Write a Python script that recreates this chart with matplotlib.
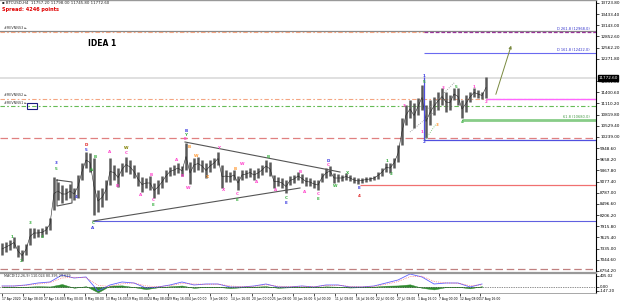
import matplotlib
matplotlib.use('Agg')
import matplotlib.pyplot as plt
import numpy as np
from matplotlib.patches import Rectangle

# ---------------- data ----------------
highs = [7482, 7508, 7560, 7638, 7430, 7300, 7456, 7872, 7872, 7846, 7872, 7924, 8132, 9198, 9068,
         8990, 8912, 9016, 8912, 9250, 9562, 9848, 9822, 9692, 8860, 8912, 9120, 9692, 9510, 9432,
         9562, 9718, 9640, 9510, 9328, 9198, 9172, 9224, 9042, 9120, 9224, 9380, 9458, 9510, 9562,
         9484, 10082, 9588, 9692, 9718, 9640, 9562, 9640, 9692, 9848, 9510, 9380, 9328, 9380, 9224,
         9380, 9380, 9432, 9380, 9432, 9510, 9640, 9588, 9250, 9198, 9172, 9120, 9224, 9250, 9328,
         9276, 9198, 9172, 9120, 9120, 9302, 9432, 9484, 9302, 9276, 9250, 9302, 9250, 9198, 9172,
         9172, 9198, 9198, 9224, 9328, 9432, 9562, 9562, 9692, 10030, 10732, 11070, 11200, 11122, 11252,
         11590, 11070, 11200, 11278, 11408, 11512, 11408, 11330, 11512, 11512, 11200, 11330, 11408, 11512, 11460,
         11408, 11798]
lows = [7170, 7248, 7300, 7352, 7118, 7014, 7170, 7430, 7612, 7638, 7638, 7716, 7820, 8340, 8600,
        8522, 8600, 8652, 8600, 8652, 9120, 9432, 9328, 8210, 8288, 8418, 8600, 8990, 9120, 8938,
        9224, 9328, 9276, 9172, 8964, 8808, 8912, 8860, 8652, 8756, 8912, 9068, 9224, 9250, 9302,
        9224, 9380, 9016, 9328, 9380, 9328, 9172, 9328, 9432, 9510, 8912, 9068, 9068, 9120, 8860,
        9120, 9172, 9198, 9120, 9172, 9250, 9328, 9224, 8912, 8964, 8912, 8782, 8990, 9042, 9120,
        9042, 8964, 8964, 8912, 8860, 9068, 9172, 9224, 9042, 9068, 9094, 9120, 9094, 9042, 9016,
        9042, 9068, 9094, 9120, 9146, 9224, 9328, 9302, 9432, 9588, 10030, 10550, 10732, 10472, 10810,
        10940, 10212, 10550, 10810, 10940, 11070, 10888, 10940, 11200, 11070, 10732, 10888, 11148, 11278, 11252,
        11226, 11252]

macd = [37, 37, 74, 147, 184, 442, 331, 368, -147, 74, 184, 147, -37, 0, 74, 184, 74, 110, 110, 0,
        0, 37, 110, 0, 0, 37, 0, 74, 74, 0, 0, 37, 147, 258, 478, 368, 110, 147, 147, 0, 110]
signal = [30, 35, 60, 110, 160, 330, 360, 340, 60, 20, 120, 150, 40, 10, 50, 130, 110, 100, 105, 40,
          10, 25, 80, 30, 10, 30, 10, 50, 65, 20, 5, 25, 100, 200, 380, 400, 200, 150, 140, 50, 80]
osma = [5, 2, 10, 30, 20, 110, -30, 30, -200, 50, 60, -5, -80, -10, 25, 55, -35, 10, 5, -40,
        -10, 12, 30, -30, -10, 7, -10, 24, 9, -20, -5, 12, 47, 58, 98, -32, -90, -3, 7, -50, 30]

price_ticks = [6754.2, 7044.6, 7335.0, 7625.4, 7915.8, 8206.2, 8496.6, 8787.0, 9077.4, 9367.8,
               9658.2, 9948.6, 10239.0, 10529.4, 10819.8, 11110.2, 11400.6, 11691.0, 12271.8,
               12562.2, 12852.6, 13143.0, 13433.4, 13723.8]
ind_ticks = [405.02, 0.0, -147.2]
date_labels = ['17 Apr 2020', '22 Apr 08:00', '27 Apr 16:00', '3 May 00:00', '8 May 08:00',
               '13 May 16:00', '19 May 00:00', '24 May 08:00', '29 May 16:00', '4 Jun 00:00',
               '9 Jun 08:00', '14 Jun 16:00', '20 Jun 00:00', '25 Jun 08:00', '30 Jun 16:00',
               '6 Jul 00:00', '11 Jul 08:00', '16 Jul 16:00', '22 Jul 00:00', '27 Jul 08:00',
               '1 Aug 16:00', '7 Aug 00:00', '12 Aug 08:00', '17 Aug 16:00']

bid_price = 11772.6
lvl_gray_top = 12994
lvl_rev3 = 12968
lvl_fib2618 = 12968
lvl_fib1618 = 12422
lvl_rev2 = 11226
lvl_magenta = 11226
lvl_rev1 = 11044
lvl_fib618 = 10680
lvl_red_dash = 10212
lvl_blue_2 = 10160
lvl_red_solid = 8990
lvl_blue_3 = 8054
lvl_brown_dash = 6806

wave_labels = [
    (2.5, 7638, '1', 'g'), (4.75, 7014, '2', 'g'), (7, 8002, '3', 'g'), (10, 7638, '4', 'g'),
    (13.5, 9562, '3', 'b'), (13.5, 9406, '5', 'g'), (18.5, 8678, '4', 'b'),
    (21, 10030, 'D', 'r'), (21, 9900, '5', 'b'), (22.5, 9380, 'A', 'g'), (23.25, 9718, 'B', 'g'),
    (22.75, 8002, 'C', 'g'), (22.75, 7872, 'A', 'b'),
    (27, 9848, 'A', 'm'), (28.75, 8964, 'B', 'm'), (31, 9952, 'W', 'o'), (31, 9822, 'C', 'm'),
    (34.75, 8730, 'A', 'm'), (37.25, 9250, 'B', 'm'), (37.75, 8600, 'C', 'm'), (37.75, 8470, 'E', 'g'),
    (43.75, 9640, 'A', 'm'), (45, 9224, 'B', 'm'), (46, 10394, 'B', 'b'), (46, 10290, 'Y', 'g'),
    (45.75, 10186, 'E', 'm'), (46.75, 9978, 'B', 'y'), (46.5, 8912, 'W', 'm'), (48.5, 9744, 'W', 'y'),
    (51.25, 9198, 'X', 'y'), (54.25, 9952, 'Y', 'm'), (55.25, 8860, 'X', 'm'), (58.25, 9406, 'B', 'y'),
    (58.75, 8756, 'C', 'm'), (58.75, 8600, 'E', 'g'), (60, 9536, 'W', 'm'), (63.75, 9068, 'A', 'm'),
    (66.5, 9718, 'B', 'g'), (68.5, 8860, 'A', 'm'), (71, 8652, 'C', 'g'), (71, 8522, 'E', 'b'),
    (74.5, 9328, 'B', 'm'), (75.75, 8808, 'A', 'm'), (79, 8756, 'C', 'm'), (79, 8626, 'E', 'g'),
    (81.5, 9614, 'D', 'b'), (81.5, 9510, 'C', 'm'), (83.25, 8964, 'W', 'g'), (86.25, 9302, 'X', 'g'),
    (89.25, 8912, 'E', 'b'), (89.25, 8704, '4', 'r'), (96.25, 9614, '1', 'g'), (97.25, 9276, '2', 'g'),
    (100.5, 11044, '3', 'm'), (105.5, 11824, '1', 'b'), (105.5, 11668, '5', 'g'), (105.5, 10108, '2', 'b'),
    (105, 10368, '1', 'm'), (108.75, 10550, '3', 'y'), (110.25, 11512, '3', 'm'), (113.5, 11538, '5', 'g'),
    (115, 10628, '4', 'g'), (118, 11538, '1', 'm'), (121, 11148, '2', 'm'),
]
label_colors = {'g': '#3cb043', 'b': '#3a3ae0', 'r': '#e02020', 'm': '#ff44cc',
                'o': '#808000', 'y': '#ff9933'}

tri_upper = ([45.75, 84.5], [10108, 9328])
tri_lower = ([22.75, 74.5], [8054, 8912])
box_x = [13.75, 17.5, 17.5, 13.75, 13.75]
box_y = [9120, 9068, 8522, 8444, 9120]
chan1 = ([106.25, 113.25], [10940, 11668])
chan2 = ([102, 109.5], [10368, 11018])
chan3 = ([105.75, 108.5], [10160, 10576])
arrow_from = (123.25, 11278)
arrow_to = (127.5, 12682)
vline_day = 105.5
vline_range = (10160, 11798)

# ---------------- figure ----------------
W, H = 625, 301
fig = plt.figure(figsize=(6.25, 3.01), dpi=100)
fig.patch.set_facecolor('white')

RIGHT = 596
ax = fig.add_axes([0, 1 - 272 / H, RIGHT / W, 272 / H])
ax.set_xlim(-0.5, 148.5)
ax.set_ylim(6728, 13800)
for s in ['left', 'bottom']:
    ax.spines[s].set_visible(False)
ax.spines['top'].set_color('#999999')
ax.spines['top'].set_linewidth(1.0)
ax.spines['right'].set_color('black')
ax.spines['right'].set_linewidth(0.8)
ax.set_xticks([])
ax.yaxis.tick_right()
ax.set_yticks(price_ticks)
ax.set_yticklabels([f'{v:.2f}' for v in price_ticks], fontsize=3.0)
ax.tick_params(axis='y', length=2, width=0.5, pad=1, colors='black')

days = np.arange(len(highs))
xmax = 148.5

# horizontal levels
ax.axhline(lvl_gray_top, color='#888888', lw=0.9)
ax.hlines(lvl_rev3, -0.5, vline_day, color='#f4a582', lw=0.8, linestyles=[(0, (4, 2, 1.5, 2))])
ax.hlines(lvl_fib2618, vline_day, xmax, color='#993399', lw=0.9, linestyles=[(0, (3, 1.5))])
ax.hlines(lvl_fib1618, vline_day, xmax, color='#6a6af0', lw=0.8)
ax.axhline(bid_price, color='#dddddd', lw=1.3)
ax.axhline(lvl_rev2, color='#f4a582', lw=0.8, linestyle=(0, (4, 2, 1.5, 2)))
ax.hlines(lvl_magenta, 121, xmax, color='#ff66ff', lw=1.0)
ax.axhline(lvl_rev1, color='#66bb55', lw=0.8, linestyle=(0, (4, 2, 1.5, 2)))
ax.hlines(lvl_fib618, 115, xmax, color='#88cc88', lw=2.0)
ax.axhline(lvl_red_dash, color='#e08080', lw=0.9, linestyle=(0, (6, 3)))
ax.hlines(lvl_blue_2, vline_day, xmax, color='#5050e0', lw=0.9)
ax.hlines(lvl_red_solid, 89.5, xmax, color='#f07070', lw=0.9)
ax.hlines(lvl_blue_3, 22.75, xmax, color='#6060e0', lw=0.8)
ax.axhline(lvl_brown_dash, color='#c08080', lw=0.9, linestyle=(0, (6, 3)))

# level texts
ax.text(0.5, lvl_rev3 + 40, '#REVNNS3 \u25ba', fontsize=2.4, color='#333333', va='bottom')
ax.text(0.5, lvl_rev2 + 40, '#REVNNS2 \u25ba', fontsize=2.4, color='#333333', va='bottom')
ax.text(0.5, lvl_rev1 + 20, '#REVNNS1 \u25ba', fontsize=2.4, color='#333333', va='bottom')
ax.add_patch(Rectangle((6.25, 10966), 2.5, 156, fill=False, edgecolor='#1a1a80', lw=0.8))
ax.text(147, lvl_fib2618 + 20, f'D 261.8 ({lvl_fib2618:.1f})', fontsize=2.6, color='#3333cc',
        ha='right', va='bottom')
ax.text(147, lvl_fib1618 + 20, f'D 161.8 ({lvl_fib1618:.1f})', fontsize=2.6, color='#3333cc',
        ha='right', va='bottom')
ax.text(147, lvl_fib618 + 30, f'61.8 ({lvl_fib618:.1f})', fontsize=2.6, color='#449944',
        ha='right', va='bottom')

# price bars
ax.vlines(days, lows, highs, color='#5a5a5a', lw=1.8)
ax.plot(days, [(h + l) / 2 for h, l in zip(highs, lows)], color='#222222', lw=0.4)

# trend lines
ax.plot(*tri_upper, color='#555555', lw=0.8)
ax.plot(*tri_lower, color='#555555', lw=0.8)
ax.plot(box_x, box_y, color='#555555', lw=0.8)
ax.plot(*chan1, color='#888888', lw=0.6, linestyle=':')
ax.plot(*chan2, color='#888888', lw=0.6, linestyle=':')
ax.plot(*chan3, color='#66bb66', lw=0.6, linestyle=':')
ax.vlines(vline_day, *vline_range, color='#5050e0', lw=0.9)
ax.annotate('', xy=arrow_to, xytext=arrow_from,
            arrowprops=dict(arrowstyle='-|>', color='#7a8a40', lw=0.7, mutation_scale=4))

# wave labels
for d, p, t, c in wave_labels:
    ax.text(d, p, t, fontsize=3.0, color=label_colors[c], ha='center', va='center', fontweight='bold')

ax.text(25, 12682, 'IDEA 1', fontsize=5.5, fontweight='bold', ha='center', va='center', color='black')

# bid label on axis
ax.text(1.004, bid_price, f'{bid_price:.2f}', transform=ax.get_yaxis_transform(), fontsize=3.0,
        color='white', va='center', ha='left',
        bbox=dict(boxstyle='square,pad=0.15', fc='black', ec='black'))

# header
fig.text(2 / W, 1 - 3.5 / H, '\u25aa BTCUSD,H4  11757.20 11798.00 11745.80 11772.60', fontsize=2.8,
         color='#222222', va='center', ha='left')
fig.text(2 / W, 1 - 9.5 / H, 'Spread: 4246 points', fontsize=3.6, color='#e00000', va='center',
         ha='left', fontweight='bold')

# ---------------- indicator ----------------
axi = fig.add_axes([0, 1 - 293 / H, RIGHT / W, 20 / H])
axi.set_xlim(-0.5, 148.5)
axi.set_ylim(-221, 515)
axi.spines['top'].set_color('#999999')
axi.spines['top'].set_linewidth(1.6)
axi.spines['left'].set_visible(False)
axi.spines['bottom'].set_color('#999999')
axi.spines['bottom'].set_linewidth(0.6)
axi.spines['right'].set_color('black')
axi.spines['right'].set_linewidth(0.8)
ind_x = days[::3]
axi.fill_between(ind_x, 0, osma, color='#2e8b2e', lw=0.3)
axi.plot(ind_x, macd, color='#6060ff', lw=0.6)
axi.plot(ind_x, signal, color='#ff5050', lw=0.5, linestyle=':')
axi.axhline(0, color='#222222', lw=0.5, linestyle=(0, (1, 1.5)))
axi.yaxis.tick_right()
axi.set_yticks(ind_ticks)
axi.set_yticklabels([f'{v:.2f}' for v in ind_ticks], fontsize=2.8)
axi.tick_params(axis='y', length=2, width=0.5, pad=1)
axi.text(0.5, 470, 'MACD(12,26,9) 110.024 80.395 29.629', fontsize=2.4, color='#333333', va='top')

tick_pos = np.arange(len(date_labels)) * 5.2
axi.set_xticks(tick_pos)
axi.set_xticklabels(date_labels, fontsize=2.2, ha='left')
axi.tick_params(axis='x', length=2, width=0.5, pad=1)

fig.savefig('out.png', dpi=100, facecolor='white')
